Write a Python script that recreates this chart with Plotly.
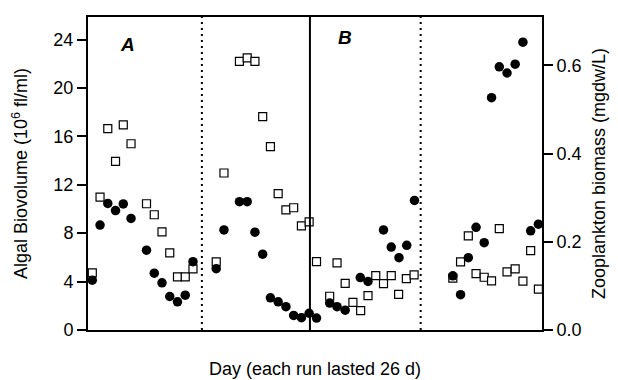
import plotly.graph_objects as go

# Day positions (sampling days, runs laid end to end)
algae_days = [0, 2, 4, 6, 8, 10, 14, 16, 18, 20, 22, 24, 26,
              32, 34, 38, 40, 42, 44, 46, 48, 50, 52, 54, 56,
              57.9, 61.3, 63.2, 65.3, 67.3, 69.3, 71.2, 73.2, 75.2, 77.2, 79.1, 81.1, 83.1,
              93.1, 95.1, 97.1, 99.1, 101.2, 103.1, 105.1, 107.1, 109.2, 111.2, 113.2, 115.2]
algae_vals = [4.72, 10.98, 16.64, 13.93, 16.94, 15.39, 10.43, 9.52, 8.11, 6.37, 4.39, 4.39, 5.05,
              5.63, 12.97, 22.2, 22.49, 22.2, 17.63, 15.15, 11.26, 9.93, 10.1, 8.61, 8.94,
              5.65, 2.79, 5.54, 3.86, 2.28, 1.60, 2.84, 4.49, 3.83, 4.49, 2.95, 4.24, 4.55,
              4.28, 5.63, 7.78, 4.66, 4.36, 4.06, 8.38, 4.80, 5.05, 4.03, 6.56, 3.37]

zoo_days = [0, 2, 4, 6, 8, 10, 14, 16, 18, 20, 22, 24, 26,
            32, 34, 38, 40, 42, 44, 46, 48, 50, 52, 54, 56,
            57.9, 61.3, 63.2, 65.3, 69.2, 71.2, 75.2, 77.2, 79.2, 81.2, 83.2,
            93.1, 95.1, 97.1, 99.1, 101.2, 103.1, 105.1, 107.1, 109.2, 111.2, 113.2, 115.2]
zoo_vals = [0.113, 0.238, 0.287, 0.271, 0.286, 0.253, 0.181, 0.129, 0.107, 0.076, 0.064, 0.079, 0.155,
            0.139, 0.227, 0.291, 0.291, 0.222, 0.172, 0.073, 0.064, 0.053, 0.033, 0.028, 0.038,
            0.027, 0.061, 0.053, 0.045, 0.119, 0.110, 0.227, 0.188, 0.164, 0.192, 0.294,
            0.123, 0.080, 0.164, 0.233, 0.198, 0.527, 0.597, 0.583, 0.603, 0.653, 0.225, 0.240]

left_ticks = [0, 4, 8, 12, 16, 20, 24]
right_ticks = [0.0, 0.2, 0.4, 0.6]
dotted_dividers = [28.3, 84.8]
solid_divider = 56.2
panel_labels = ["A", "B"]
panel_label_days = [9.2, 65.2]
panel_label_vals = [23.6, 24.2]

FONT = "Liberation Sans, Arial, sans-serif"
FS = 18

fig = go.Figure()
fig.add_trace(go.Scatter(
    x=algae_days, y=algae_vals, mode="markers", yaxis="y",
    marker=dict(symbol="square", size=8, color="white",
                line=dict(color="black", width=1.2)),
    showlegend=False, cliponaxis=False))
fig.add_trace(go.Scatter(
    x=zoo_days, y=zoo_vals, mode="markers", yaxis="y2",
    marker=dict(symbol="circle", size=9.5, color="black",
                line=dict(color="black", width=0)),
    showlegend=False, cliponaxis=False))

for d in dotted_dividers:
    fig.add_shape(type="line", xref="x", yref="paper", x0=d, x1=d, y0=0, y1=1,
                  line=dict(color="black", width=2, dash="2px,4px"))
fig.add_shape(type="line", xref="x", yref="paper", x0=solid_divider, x1=solid_divider,
              y0=0, y1=1, line=dict(color="black", width=2))

for lab, d, yy in zip(panel_labels, panel_label_days, panel_label_vals):
    fig.add_annotation(x=d, y=yy, xref="x", yref="y", text="<b><i>%s</i></b>" % lab,
                       showarrow=False, font=dict(family=FONT, size=19, color="black"))

# page body has an 8px default margin, so the figure is sized to fit the window
fig.update_layout(
    width=610, height=372,
    margin=dict(l=80, r=76, t=9, b=50, autoexpand=False),
    plot_bgcolor="white", paper_bgcolor="white",
    font=dict(family=FONT, size=FS, color="black"),
    xaxis=dict(range=[-1.11, 116.13], showline=True, linecolor="black", linewidth=2,
               mirror=True, showticklabels=False, ticks="", showgrid=False, zeroline=False,
               automargin=False,
               title=dict(text="Day (each run lasted 26 d)", standoff=31,
                          font=dict(size=FS))),
    yaxis=dict(range=[0, 25.86], tickvals=left_ticks, ticks="outside", ticklen=9,
               tickwidth=2, tickcolor="black", showline=True, linecolor="black",
               linewidth=2, showgrid=False, zeroline=False, automargin=False,
               tickfont=dict(size=FS),
               title=dict(text="Algal Biovolume (10<sup>6</sup> fl/ml)", standoff=21,
                          font=dict(size=FS))),
    yaxis2=dict(range=[0, 0.710], overlaying="y", side="right", tickvals=right_ticks,
                tickformat=".1f", ticks="outside", ticklen=9, tickwidth=2,
                tickcolor="black", showline=True, linecolor="black", linewidth=2,
                showgrid=False, zeroline=False, automargin=False, tickfont=dict(size=FS),
                title=dict(text="Zooplankton biomass (mgdw/L)", standoff=12,
                           font=dict(size=FS))),
)

fig.write_html("out.html")
